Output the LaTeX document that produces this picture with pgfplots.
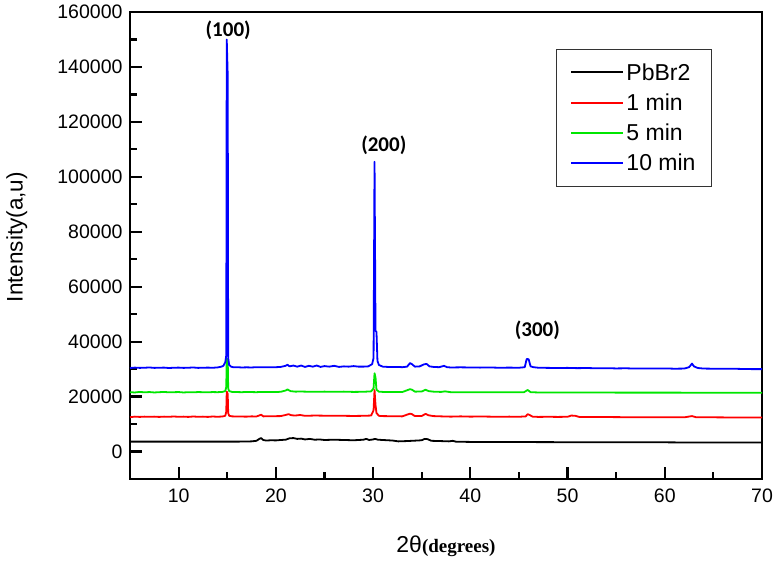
\documentclass[border=0pt]{standalone}
\usepackage{pgfplots}
\pgfplotsset{compat=1.18}
\usepackage{fontspec}
\setmainfont{Liberation Sans}
\newfontfamily\carlito{Carlito}
\newfontfamily\serifb{Liberation Serif}
\definecolor{cblue}{RGB}{0,0,255}
\definecolor{cred}{RGB}{255,0,0}
\definecolor{cgreen}{RGB}{0,230,0}
\begin{document}
\begin{tikzpicture}
\begin{axis}[
  name=ax,
  scale only axis,
  width=632pt, height=467pt,
  xmin=5, xmax=70, ymin=-10000, ymax=160000,
  xtick={10,20,...,70},
  minor xtick={15,25,...,65},
  ytick={0,20000,...,160000},
  minor ytick={-10000,10000,...,150000},
  xtick pos=bottom, ytick pos=left,
  tick align=inside,
  major tick length=12pt, minor tick length=7pt,
  every tick/.style={line width=2.2pt, black},
  axis line style={line width=2.6pt},
  scaled ticks=false,
  /pgf/number format/fixed,
  /pgf/number format/precision=0,
  /pgf/number format/assume math mode=true,
  /pgf/number format/1000 sep={},
  tick label style={font=\fontsize{19.5}{21}\selectfont},
  yticklabel style={xshift=-4pt},
  xticklabel style={yshift=-6pt},
  ylabel={Intensity(a,u)},
  ylabel style={font=\fontsize{22.5}{24}\selectfont, at={(axis description cs:-0.179,0.518)}, anchor=center},
  xlabel={{\fontsize{23}{24}\selectfont 2θ}{\serifb\bfseries\fontsize{19}{20}\selectfont(degrees)}},
  xlabel style={at={(axis description cs:0.5,0)}, anchor=base, yshift=-74pt},
  legend style={at={(0.674,0.921)}, anchor=north west, draw=black!80, line width=1pt,
    font=\fontsize{23}{26}\selectfont, inner xsep=14pt, inner ysep=12pt, row sep=8pt},
  legend cell align=left,
  legend image code/.code={\draw[#1, line width=2pt] (0pt,0pt) -- (52pt,0pt);},
  every axis plot/.append style={line width=1.8pt, line join=round},
]
\addplot[black] coordinates {
(5.0,3600) (6,3600) (7,3600) (8,3600) (9,3600) (10,3600) (11,3600) (12,3600) (13,3600) (14,3600) (15,3600) (16,3600) (17,3650) (17.5,3700) (18.0,3900) (18.3,4600) (18.5,4900) (18.7,4200) (19.0,4000) (19.5,4100) (20,4050) (20.5,4200) (21.0,4300) (21.4,4800) (21.8,4900) (22.2,4600) (22.6,4700) (23,4400) (23.5,4600) (24,4300) (24.5,4400) (25,4200) (26,4300) (27,4200) (28,4100) (29,4300) (29.3,4600) (29.6,4200) (30.0,4400) (30.2,4600) (30.5,4300) (31,4200) (32,4000) (32.6,3700) (33.4,3800) (34,3900) (35,4100) (35.3,4600) (35.6,4500) (36,3900) (37,3800) (37.8,3700) (38.2,3900) (38.5,3600) (39,3550) (40,3500) (45,3450) (50,3400) (53,3400) (55,3350) (60,3350) (62,3300) (65,3300) (70,3300)
};
\addlegendentry{PbBr2}
\addplot[cred] coordinates {
(5.0,12500) (5.5,12700) (6,12600) (6.5,12700) (7,12650) (7.5,12700) (8,12600) (8.5,12700) (9,12650) (9.5,12750) (10,12650) (10.5,12700) (11,12600) (11.5,12750) (12,12650) (12.5,12700) (13,12600) (13.5,12750) (14,12650) (14.5,12750) (14.8,13000) (14.9,14500) (14.95,21800) (15.05,21000) (15.1,14000) (15.2,13000) (15.5,12800) (16,12750) (17,12700) (17.5,12800) (18,12750) (18.5,13400) (18.7,12800) (19.5,12850) (20.5,12900) (21.0,13300) (21.3,13600) (21.6,13200) (22,13100) (22.5,13300) (23,13000) (24,13100) (25,13050) (26,13000) (27,13000) (28,12950) (29,13000) (29.8,13100) (30.05,15000) (30.15,22400) (30.25,17000) (30.35,14000) (30.6,13000) (31,12900) (32,12850) (33,12800) (33.8,13800) (34.0,13600) (34.3,12900) (35,12950) (35.4,13700) (35.7,13200) (36.2,12900) (37,12800) (38,12700) (39,12800) (40,12700) (41,12750) (42,12700) (43,12650) (44,12700) (45,12650) (45.7,12800) (45.9,13600) (46.1,13300) (46.4,12700) (47,12600) (48,12650) (49,12600) (50,12650) (50.4,13100) (50.8,13000) (51.2,12600) (52,12550) (54,12550) (56,12500) (58,12500) (60,12450) (62,12450) (62.8,12900) (63.2,12500) (65,12450) (67,12400) (70,12400)
};
\addlegendentry{1 min}
\addplot[cgreen] coordinates {
(5.0,21600) (5.5,21500) (6,21700) (6.5,21550) (7,21650) (7.5,21500) (8,21600) (8.5,21700) (9,21550) (9.5,21600) (10,21650) (10.5,21500) (11,21600) (11.5,21550) (12,21650) (12.5,21600) (13,21550) (13.5,21650) (14,21600) (14.5,21700) (14.8,22000) (14.9,23500) (14.95,33800) (15.05,33500) (15.1,23000) (15.2,22000) (15.5,21700) (16,21650) (16.5,21600) (17,21700) (17.5,21650) (18,21600) (18.5,21700) (19,21650) (19.5,21700) (20,21650) (20.5,21750) (21.0,22200) (21.2,22600) (21.5,22000) (22,21800) (22.5,21850) (23,21800) (24,21750) (25,21800) (26,21750) (27,21800) (28,21700) (29,21750) (29.8,21900) (30.05,23000) (30.15,28500) (30.25,27000) (30.35,22500) (30.6,21800) (31,21700) (32,21650) (33,21650) (33.8,22700) (34.0,22500) (34.3,21800) (35,21850) (35.4,22500) (35.7,22000) (36.2,21800) (37,21700) (37.4,21900) (38,21600) (39,21600) (40,21550) (42,21600) (44,21550) (45.5,21550) (45.9,22400) (46.2,21600) (47,21500) (50,21500) (55,21450) (60,21450) (65,21400) (70,21400)
};
\addlegendentry{5 min}
\addplot[cblue] coordinates {
(5.0,30400) (5.5,30550) (6.0,30450) (6.5,30500) (7.0,30600) (7.5,30450) (8.0,30500) (8.5,30550) (9.0,30400) (9.5,30500) (10.0,30550) (10.5,30450) (11.0,30500) (11.5,30600) (12.0,30450) (12.5,30500) (13.0,30550) (13.5,30500) (14.0,30600) (14.4,30900) (14.6,31200) (14.8,32500) (14.9,35000) (14.95,150000) (15.05,137000) (15.1,34000) (15.2,31500) (15.4,30900) (15.6,30700) (16.0,30700) (16.5,30600) (17.0,30650) (17.5,30600) (18.0,30700) (18.5,30650) (19.0,30700) (19.5,30650) (20.0,30700) (20.5,30800) (21.0,31200) (21.2,31600) (21.4,31000) (21.8,31300) (22.2,30900) (22.6,31300) (23.0,30800) (23.4,31200) (23.8,30900) (24.2,31300) (24.6,30800) (25.0,31100) (25.5,30900) (26.0,31200) (26.5,30800) (27.0,31000) (27.5,30900) (28.0,31100) (28.5,30900) (29.0,30900) (29.5,31000) (29.9,31800) (30.05,34000) (30.15,105500) (30.25,44000) (30.35,43500) (30.45,33000) (30.6,31500) (31.0,30900) (31.5,30800) (32.0,30750) (32.5,30800) (33.0,30700) (33.5,30900) (33.8,32200) (34.0,31800) (34.3,30900) (34.8,31000) (35.2,31700) (35.5,31900) (35.8,31000) (36.2,30800) (36.8,30700) (37.3,31200) (37.6,30700) (38.0,30600) (39,30650) (40,30600) (41,30550) (42,30600) (43,30500) (44,30550) (45,30500) (45.6,30700) (45.8,33700) (46.0,33600) (46.2,31000) (46.5,30700) (47,30500) (48,30450) (49,30400) (50,30450) (51,30350) (52,30400) (53,30300) (54,30350) (55,30250) (56,30300) (57,30200) (58,30250) (59,30200) (60,30250) (61,30150) (62,30200) (62.5,30700) (62.8,32000) (63.0,31000) (63.4,30400) (64,30200) (65,30150) (66,30100) (67,30150) (68,30050) (69,30000) (70,30000)
};
\addlegendentry{10 min}
\node[font=\carlito\bfseries\fontsize{21}{22}\selectfont] at (axis cs:15.1,153400) {(100)};
\node[font=\carlito\bfseries\fontsize{21}{22}\selectfont] at (axis cs:31.1,111600) {(200)};
\node[font=\carlito\bfseries\fontsize{21}{22}\selectfont] at (axis cs:46.9,44200) {(300)};
\end{axis}
\pgfresetboundingbox
\path[use as bounding box] ([xshift=-130pt,yshift=-83pt]ax.south west) rectangle ([xshift=12pt,yshift=12pt]ax.north east);
\end{tikzpicture}
\end{document}
